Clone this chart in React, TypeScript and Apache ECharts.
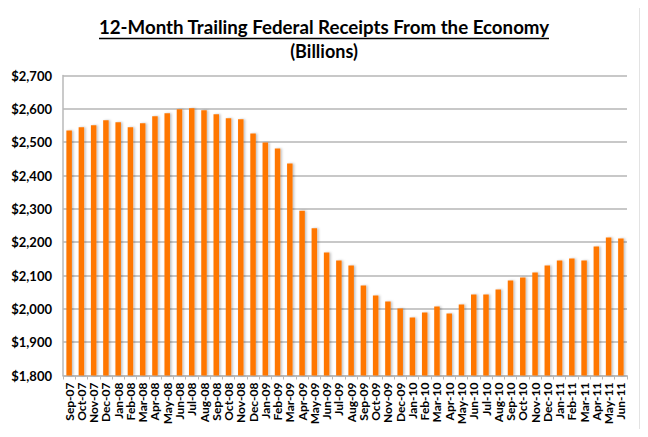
import React, { useEffect, useRef } from "react";
import * as echarts from "echarts";

const categories = [
  "Sep-07", "Oct-07", "Nov-07", "Dec-07",
  "Jan-08", "Feb-08", "Mar-08", "Apr-08", "May-08", "Jun-08", "Jul-08", "Aug-08", "Sep-08", "Oct-08", "Nov-08", "Dec-08",
  "Jan-09", "Feb-09", "Mar-09", "Apr-09", "May-09", "Jun-09", "Jul-09", "Aug-09", "Sep-09", "Oct-09", "Nov-09", "Dec-09",
  "Jan-10", "Feb-10", "Mar-10", "Apr-10", "May-10", "Jun-10", "Jul-10", "Aug-10", "Sep-10", "Oct-10", "Nov-10", "Dec-10",
  "Jan-11", "Feb-11", "Mar-11", "Apr-11", "May-11", "Jun-11",
];

const receipts = [
  2535, 2545, 2551, 2566,
  2560, 2545, 2557, 2578, 2587, 2599, 2602, 2596, 2584, 2572, 2569, 2526,
  2499, 2481, 2436, 2294, 2242, 2169, 2145, 2130, 2070, 2040, 2022, 2001,
  1974, 1989, 2007, 1986, 2013, 2043, 2043, 2058, 2085, 2094, 2109, 2130,
  2145, 2151, 2145, 2187, 2214, 2211,
];

const yMin = 1800;
const yMax = 2700;
const yStep = 100;

const titleLine1 = "12-Month Trailing Federal Receipts From the Economy";
const titleLine2 = "(Billions)";

export default function App() {
  const ref = useRef<HTMLDivElement>(null);

  useEffect(() => {
    if (!ref.current) return;
    const chart = echarts.init(ref.current, undefined, { renderer: "svg" });
    const font = "Lato, 'Open Sans', sans-serif";
    chart.setOption({
      animation: false,
      backgroundColor: "#ffffff",
      graphic: [
        {
          type: "rect",
          shape: { x: 4.5, y: 4.5, width: 636, height: 426 },
          style: { fill: "none", stroke: "#c8c8c8", lineWidth: 2 },
          z: -1,
        },
        {
          type: "text",
          x: 324,
          y: 27,
          style: {
            text: titleLine1,
            fill: "#000",
            font: `bold 18.7px ${font}`,
            textAlign: "center",
            textVerticalAlign: "middle",
          },
        },
        {
          type: "line",
          shape: { x1: 99, y1: 38.5, x2: 549, y2: 38.5 },
          style: { stroke: "#000", lineWidth: 1.3 },
        },
        {
          type: "text",
          x: 324,
          y: 51,
          style: {
            text: titleLine2,
            fill: "#000",
            font: `bold 18px ${font}`,
            textAlign: "center",
            textVerticalAlign: "middle",
          },
        },
      ],
      grid: { left: 63, right: 21, top: 75.5, bottom: 61.5, containLabel: false },
      xAxis: {
        type: "category",
        data: categories,
        axisLine: { show: true, lineStyle: { color: "#b8b8b8", width: 1.5 } },
        axisTick: { show: true, alignWithLabel: false, length: 4, lineStyle: { color: "#b8b8b8" } },
        axisLabel: {
          interval: 0,
          rotate: 90,
          color: "#000",
          fontWeight: "bold",
          fontSize: 12,
          fontFamily: font,
          margin: 7,
        },
      },
      yAxis: {
        type: "value",
        min: yMin,
        max: yMax,
        interval: yStep,
        axisLine: { show: true, lineStyle: { color: "#b8b8b8", width: 1.5 } },
        axisTick: { show: false },
        splitLine: { show: true, lineStyle: { color: "#c8c8c8", width: 2 } },
        axisLabel: {
          color: "#000",
          fontWeight: "bold",
          fontSize: 13,
          fontFamily: font,
          margin: 11,
          formatter: (v: number) => "$" + v.toLocaleString("en-US"),
        },
      },
      series: [
        {
          type: "bar",
          data: receipts,
          barWidth: 5.5,
          itemStyle: {
            color: "#ff7700",
            shadowColor: "rgba(0,0,0,0.25)",
            shadowOffsetX: 1.5,
            shadowOffsetY: 0,
            shadowBlur: 2,
          },
        },
      ],
    });
    return () => chart.dispose();
  }, []);

  return <div ref={ref} style={{ width: 648, height: 437, margin: -8 }} />;
}
